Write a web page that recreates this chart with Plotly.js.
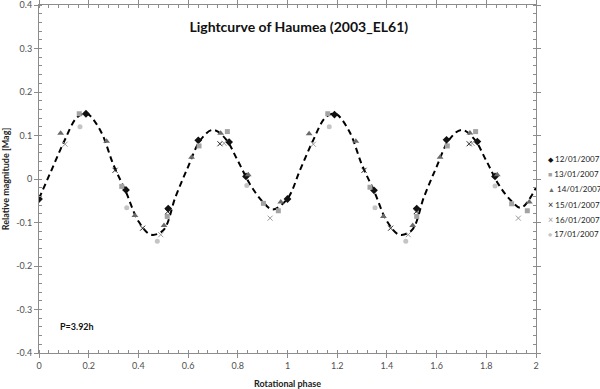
<!DOCTYPE html>
<html>
<head>
<meta charset="utf-8">
<script src="https://cdn.plot.ly/plotly-3.0.1.min.js"></script>
<style>
  html, body { margin: 0; padding: 0; background: #fff; }
  #chart { width: 600px; height: 389px; }
</style>
</head>
<body>
<div id="chart"></div>
<script>
// observations per night, phase folded (two cycles shown)
const d1201Phase = [0, 0.189, 0.35, 0.52, 0.641, 0.765, 0.833, 1.0, 1.189, 1.348, 1.52, 1.64, 1.764, 1.835];
const d1201Mag = [-0.046, 0.15, -0.025, -0.068, 0.089, 0.085, 0.006, -0.046, 0.148, -0.026, -0.068, 0.09, 0.086, 0.006];

const d1301Phase = [0.162, 0.333, 0.516, 0.644, 0.758, 0.903, 0.963, 1.162, 1.332, 1.52, 1.643, 1.757, 1.902, 1.965];
const d1301Mag = [0.15, -0.017, -0.086, 0.076, 0.109, -0.056, -0.073, 0.15, -0.019, -0.086, 0.076, 0.109, -0.057, -0.073];

const d1401Phase = [0.087, 0.272, 0.386, 0.503, 0.614, 0.731, 0.842, 0.973, 1.087, 1.275, 1.386, 1.504, 1.614, 1.734, 1.844, 1.973];
const d1401Mag = [0.105, 0.087, -0.084, -0.107, 0.05, 0.105, 0.01, -0.053, 0.104, 0.087, -0.086, -0.107, 0.05, 0.106, 0.01, -0.053];

const d1501Phase = [0.306, 0.417, 0.518, 0.728, 1.308, 1.415, 1.518, 1.731];
const d1501Mag = [0.02, -0.113, -0.075, 0.081, 0.02, -0.113, -0.075, 0.081];

const d1601Phase = [0.105, 0.49, 0.745, 0.93, 1.104, 1.486, 1.743, 1.929];
const d1601Mag = [0.08, -0.128, 0.082, -0.09, 0.08, -0.128, 0.082, -0.09];

const d1701Phase = [0.165, 0.353, 0.476, 0.836, 1.168, 1.352, 1.476, 1.835];
const d1701Mag = [0.12, -0.066, -0.143, -0.015, 0.12, -0.066, -0.143, -0.016];

// fitted light curve
const fitPhase = [0, 0.05, 0.1, 0.15, 0.18, 0.2, 0.25, 0.3, 0.35, 0.4, 0.45, 0.5, 0.55, 0.6, 0.65, 0.7, 0.75, 0.8, 0.85, 0.9, 0.94,
  1.0, 1.05, 1.1, 1.15, 1.18, 1.2, 1.25, 1.3, 1.35, 1.4, 1.45, 1.5, 1.55, 1.6, 1.65, 1.7, 1.75, 1.8, 1.85, 1.9, 1.94, 2.0];
const fitMag = [-0.045, 0.02, 0.085, 0.14, 0.15, 0.148, 0.108, 0.032, -0.03, -0.097, -0.128, -0.118, -0.04, 0.028, 0.09, 0.113, 0.093, 0.042, -0.013, -0.052, -0.07,
  -0.045, 0.02, 0.085, 0.14, 0.15, 0.148, 0.108, 0.032, -0.03, -0.097, -0.128, -0.118, -0.04, 0.028, 0.09, 0.113, 0.093, 0.042, -0.013, -0.05, -0.066, -0.02];

const xTicks = [0, 0.2, 0.4, 0.6, 0.8, 1, 1.2, 1.4, 1.6, 1.8, 2];
const xTickText = ['0', '0.2', '0.4', '0.6', '0.8', '1', '1.2', '1.4', '1.6', '1.8', '2'];
const yTicks = [-0.4, -0.3, -0.2, -0.1, 0, 0.1, 0.2, 0.3, 0.4];
const yTickText = ['-0.4', '-0.3', '-0.2', '-0.1', '0', '0.1', '0.2', '0.3', '0.4'];

const nights = ['12/01/2007', '13/01/2007', '14/01/2007', '15/01/2007', '16/01/2007', '17/01/2007'];
const nightGlyphs = ['\u25C6', '\u25A0', '\u25B2', '\u00D7', '\u00D7', '\u25CF'];
const nightColors = ['#111111', '#a3a3a3', '#6b6b6b', '#222222', '#9a9a9a', '#c4c4c4'];

const font = 'Lato, "Open Sans", sans-serif';

function series(i, x, y, symbol, size) {
  const color = nightColors[i];
  return {
    type: 'scatter',
    mode: 'markers',
    name: nights[i],
    x,
    y,
    showlegend: false,
    marker: { symbol, color, size, line: { width: symbol.includes('open') ? 1 : 0, color } },
  };
}

const traces = [
  {
    type: 'scatter',
    mode: 'lines',
    name: 'fit',
    x: fitPhase,
    y: fitMag,
    line: { color: '#000', width: 2, dash: '6px,4px', shape: 'spline', smoothing: 1 },
    showlegend: false,
  },
  series(0, d1201Phase, d1201Mag, 'diamond', 6),
  series(1, d1301Phase, d1301Mag, 'square', 5),
  series(2, d1401Phase, d1401Mag, 'triangle-up', 6),
  series(3, d1501Phase, d1501Mag, 'x-thin-open', 5),
  series(4, d1601Phase, d1601Mag, 'x-thin-open', 5),
  series(5, d1701Phase, d1701Mag, 'circle', 5),
];

// legend drawn as text to the right of the plot, like the original
const legendRows = [159, 174, 189, 204, 219, 234];
const plotTop = 5, plotBottom = 353;
const legendNotes = nights.map((name, i) => ({
  xref: 'paper', yref: 'paper',
  x: 1.022, xanchor: 'left',
  y: (plotBottom - legendRows[i]) / (plotBottom - plotTop), yanchor: 'middle',
  showarrow: false,
  borderpad: 0,
  text: `<span style="color:${nightColors[i]};font-size:${i === 3 || i === 4 ? 9 : 7}px">${nightGlyphs[i]}</span> ${name}`,
  font: { family: font, size: 8, color: '#222' },
}));

const axisBase = {
  showgrid: false,
  zeroline: false,
  showline: true,
  linecolor: '#8c8c8c',
  linewidth: 1,
  mirror: 'ticks',
  ticks: 'outside',
  ticklen: 4,
  tickcolor: '#8c8c8c',
  tickmode: 'array',
  ticklabeloverflow: 'allow',
  tickfont: { family: font, size: 9, color: '#505050' },
};

Plotly.newPlot('chart', traces, {
  width: 600,
  height: 389,
  margin: { l: 39, r: 64, t: 5, b: 36, autoexpand: false },
  paper_bgcolor: '#fff',
  plot_bgcolor: '#fff',
  font: { family: font, color: '#222' },
  showlegend: false,
  title: {
    text: '<b>Lightcurve of Haumea (2003_EL61)</b>',
    font: { family: font, size: 14, color: '#111' },
    x: 0.498, xanchor: 'center', y: 0.93, yanchor: 'middle',
  },
  xaxis: {
    ...axisBase,
    range: [0, 2],
    tickvals: xTicks,
    ticktext: xTickText,
    minor: { dtick: 0.04, ticks: 'inside', ticklen: 3, tickcolor: '#8c8c8c' },
    title: { text: '<b>Rotational phase</b>', font: { family: font, size: 9, color: '#222' }, standoff: 14 },
  },
  yaxis: {
    ...axisBase,
    range: [-0.4, 0.4],
    tickvals: yTicks,
    ticktext: yTickText,
    minor: { dtick: 0.02, ticks: 'inside', ticklen: 3, tickcolor: '#8c8c8c' },
    title: { text: '<b>Relative magnitude [Mag]</b>', font: { family: font, size: 9, color: '#222' }, standoff: 5 },
  },
  annotations: [
    ...legendNotes,
    {
      xref: 'paper', yref: 'paper',
      x: 0.038, y: 0.075, xanchor: 'left', yanchor: 'middle',
      text: '<b>P=3.92h</b>', showarrow: false,
      font: { family: font, size: 9, color: '#111' },
    },
  ],
}, { displayModeBar: false, staticPlot: true });
</script>
</body>
</html>
